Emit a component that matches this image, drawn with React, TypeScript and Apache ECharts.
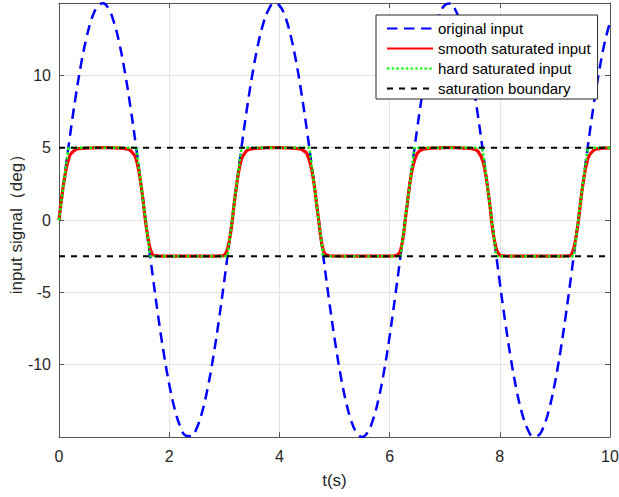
import React, { useEffect, useRef } from "react";
import * as echarts from "echarts";

// time samples (s)
const T = [
  0, 0.1, 0.2, 0.3, 0.4, 0.5, 0.6, 0.7, 0.8, 0.9,
  1.0, 1.1, 1.2, 1.3, 1.4, 1.5, 1.6, 1.7, 1.8, 1.9,
  2.0, 2.1, 2.2, 2.3, 2.4, 2.5, 2.6, 2.7, 2.8, 2.9,
  3.0, 3.1, 3.2, 3.3, 3.4, 3.5, 3.6, 3.7, 3.8, 3.9,
  4.0, 4.1, 4.2, 4.3, 4.4, 4.5, 4.6, 4.7, 4.8, 4.9,
  5.0, 5.1, 5.2, 5.3, 5.4, 5.5, 5.6, 5.7, 5.8, 5.9,
  6.0, 6.1, 6.2, 6.3, 6.4, 6.5, 6.6, 6.7, 6.8, 6.9,
  7.0, 7.1, 7.2, 7.3, 7.4, 7.5, 7.6, 7.7, 7.8, 7.9,
  8.0, 8.1, 8.2, 8.3, 8.4, 8.5, 8.6, 8.7, 8.8, 8.9,
  9.0, 9.1, 9.2, 9.3, 9.4, 9.5, 9.6, 9.7, 9.8, 9.9,
  10.0,
];

// original input (deg)
const ORIGINAL = [
  0, 2.98, 5.84, 8.47, 10.76, 12.62, 13.98, 14.78, 14.99, 14.61,
  13.64, 12.13, 10.13, 7.73, 5.02, 2.12, -0.88, -3.83, -6.64, -9.18,
  -11.35, -13.07, -14.27, -14.91, -14.94, -14.38, -13.25, -11.59, -9.47, -6.97,
  -4.19, -1.25, 1.75, 4.67, 7.41, 9.85, 11.91, 13.48, 14.52, 14.98,
  14.84, 14.11, 12.82, 11.02, 8.77, 6.18, 3.34, 0.37, -2.61, -5.5,
  -8.16, -10.5, -12.42, -13.84, -14.71, -15.0, -14.69, -13.79, -12.36, -10.43,
  -8.05, -5.32, -2.44, 0.5, 3.47, 6.3, 8.88, 11.11, 12.89, 14.16,
  14.86, 14.97, 14.48, 13.42, 11.82, 9.75, 7.3, 4.55, 1.62, -1.38,
  -4.32, -7.09, -9.57, -11.68, -13.31, -14.42, -14.95, -14.89, -14.23, -13.01,
  -11.26, -9.07, -6.52, -3.7, -0.74, 2.25, 5.15, 7.85, 10.23, 12.21,
  13.69,
];

// smooth saturated input (deg)
const SMOOTH = [
  0, 2.89, 4.49, 4.86, 4.94, 4.97, 4.98, 5, 5, 5,
  4.99, 4.97, 4.93, 4.8, 4.21, 2.1, -0.88, -2.4, -2.49, -2.5,
  -2.5, -2.5, -2.5, -2.5, -2.5, -2.5, -2.5, -2.5, -2.5, -2.49,
  -2.43, -1.23, 1.74, 4.05, 4.77, 4.92, 4.96, 4.98, 5, 5,
  5, 4.99, 4.97, 4.95, 4.88, 4.57, 3.19, 0.37, -2.15, -2.47,
  -2.5, -2.5, -2.5, -2.5, -2.5, -2.5, -2.5, -2.5, -2.5, -2.5,
  -2.5, -2.47, -2.08, 0.5, 3.29, 4.6, 4.88, 4.95, 4.97, 4.99,
  5, 5, 5, 4.98, 4.96, 4.92, 4.76, 3.99, 1.62, -1.35,
  -2.43, -2.49, -2.5, -2.5, -2.5, -2.5, -2.5, -2.5, -2.5, -2.5,
  -2.5, -2.5, -2.49, -2.38, -0.74, 2.23, 4.27, 4.81, 4.93, 4.97,
  4.98,
];

// hard saturated input (deg), at its own time points
const HARD_T = [
  0, 0.1, 0.17, 1.401, 1.5, 1.6, 1.655, 3.058, 3.1, 3.2, 3.3, 3.312,
  4.542, 4.6, 4.7, 4.796, 6.199, 6.2, 6.3, 6.4, 6.453, 7.684, 7.7, 7.8,
  7.9, 7.937, 9.341, 9.4, 9.5, 9.595, 10,
];
const HARD_V = [
  0, 2.98, 5, 5, 2.12, -0.88, -2.5, -2.5, -1.25, 1.75, 4.67, 5,
  5, 3.34, 0.37, -2.5, -2.5, -2.44, 0.5, 3.47, 5, 5, 4.55, 1.62,
  -1.38, -2.5, -2.5, -0.74, 2.25, 5, 5,
];

// saturation boundaries (deg) and time span
const BOUNDS = [5, -2.5];
const T_SPAN = [0, 10];

const NAMES = [
  "original input",
  "smooth saturated input",
  "hard saturated input",
  "saturation boundary",
];

const FONT = "'Liberation Sans', Arial, Helvetica, sans-serif";
const AXIS_COLOR = "#555555";
const TEXT_COLOR = "#262626";

export default function App() {
  const ref = useRef<HTMLDivElement>(null);

  useEffect(() => {
    if (!ref.current) return;
    const chart = echarts.init(ref.current, null, { renderer: "svg" });

    const axisLine = { show: true, onZero: false, lineStyle: { color: AXIS_COLOR, width: 1 } };
    const axisTick = { show: true, inside: true, length: 5, lineStyle: { color: AXIS_COLOR, width: 1 } };
    const splitLine = { show: true, lineStyle: { color: "#e3e3e3", width: 1 } };

    const option = {
      animation: false,
      backgroundColor: "#ffffff",
      textStyle: { fontFamily: FONT },
      grid: {
        left: 59,
        right: 9,
        top: 3,
        bottom: 60,
        containLabel: false,
        outerBoundsMode: "none",
      },
      legend: {
        orient: "vertical",
        left: 376,
        top: 15,
        itemWidth: 46,
        itemHeight: 14,
        itemGap: 5,
        padding: [6, 7, 3, 10],
        borderColor: TEXT_COLOR,
        borderWidth: 1,
        borderRadius: 0,
        backgroundColor: "#ffffff",
        selectedMode: false,
        itemStyle: { color: "transparent", borderWidth: 0, opacity: 0 },
        textStyle: { fontSize: 15, color: "#000000", fontFamily: FONT },
        data: NAMES,
      },
      xAxis: [
        {
          type: "value",
          min: T_SPAN[0],
          max: T_SPAN[1],
          interval: 2,
          position: "bottom",
          axisLine,
          axisTick,
          splitLine,
          axisLabel: { fontSize: 16, color: TEXT_COLOR, margin: 11, fontFamily: FONT },
          name: "t(s)",
          nameLocation: "middle",
          nameGap: 35,
          nameMoveOverlap: false,
          nameTextStyle: { fontSize: 17, color: TEXT_COLOR, fontFamily: FONT },
        },
        {
          type: "value",
          min: T_SPAN[0],
          max: T_SPAN[1],
          interval: 2,
          position: "top",
          axisLine,
          axisTick,
          splitLine: { show: false },
          axisLabel: { show: false },
        },
      ],
      yAxis: [
        {
          type: "value",
          min: -15,
          max: 15,
          interval: 5,
          position: "left",
          axisLine,
          axisTick,
          splitLine,
          axisLabel: {
            fontSize: 16,
            color: TEXT_COLOR,
            margin: 8,
            fontFamily: FONT,
            showMinLabel: false,
            showMaxLabel: false,
          },
          name: "input signal（deg）",
          nameLocation: "middle",
          nameGap: 34,
          nameMoveOverlap: false,
          nameTextStyle: { fontSize: 17, color: TEXT_COLOR, fontFamily: FONT },
        },
        {
          type: "value",
          min: -15,
          max: 15,
          interval: 5,
          position: "right",
          axisLine,
          axisTick,
          splitLine: { show: false },
          axisLabel: { show: false },
        },
      ],
      series: [
        {
          name: NAMES[0],
          type: "line",
          symbol: "none",
          smooth: 0.4,
          data: T.map((t, i) => [t, ORIGINAL[i]]),
          lineStyle: { color: "#0000ff", width: 2.5, type: [10.5, 6.5] },
          itemStyle: { color: "#0000ff" },
        },
        {
          name: NAMES[1],
          type: "line",
          symbol: "none",
          smooth: 0.4,
          data: T.map((t, i) => [t, SMOOTH[i]]),
          lineStyle: { color: "#ff0000", width: 3.2 },
          itemStyle: { color: "#ff0000" },
        },
        {
          name: NAMES[2],
          type: "line",
          symbol: "none",
          data: HARD_T.map((t, i) => [t, HARD_V[i]]),
          lineStyle: { color: "#00ff00", width: 2.5, type: [2.5, 2.2] },
          itemStyle: { color: "#00ff00" },
        },
        ...BOUNDS.map((b) => ({
          name: NAMES[3],
          type: "line",
          symbol: "none",
          data: T_SPAN.map((t) => [t, b]),
          lineStyle: { color: "#000000", width: 2, type: [6, 6] },
          itemStyle: { color: "#000000" },
        })),
      ],
    };

    chart.setOption(option as any);
    return () => chart.dispose();
  }, []);

  return (
    <div
      ref={ref}
      style={{ position: "fixed", left: 0, top: 0, width: 619, height: 497, background: "#fff" }}
    />
  );
}
